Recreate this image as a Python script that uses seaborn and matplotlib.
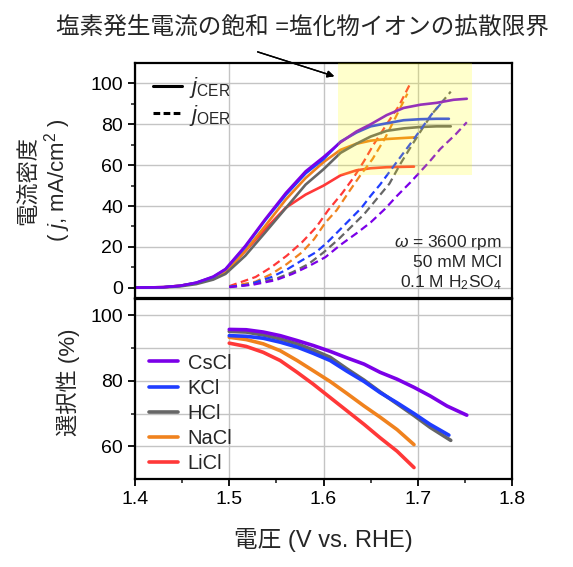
import numpy as np
import pandas as pd
import matplotlib.pyplot as plt
import seaborn as sns
from matplotlib.lines import Line2D
from matplotlib.patches import Rectangle

sns.set_style("whitegrid")
plt.rcParams['font.family'] = ['Liberation Sans', 'Noto Sans CJK JP']
plt.rcParams['mathtext.fontset'] = 'custom'
plt.rcParams['mathtext.rm'] = 'Liberation Sans'
plt.rcParams['mathtext.it'] = 'Liberation Sans:italic'
plt.rcParams['xtick.bottom'] = True
plt.rcParams['ytick.left'] = True
plt.rcParams['xtick.major.size'] = 5
plt.rcParams['ytick.major.size'] = 5
plt.rcParams['xtick.minor.size'] = 3
plt.rcParams['ytick.minor.size'] = 3

# ========== DATA ==========
salts = ["CsCl", "KCl", "HCl", "NaCl", "LiCl"]
colors = ["#7b00e8", "#1f3dff", "#666666", "#f0821e", "#ff3838"]

# j_CER (mA/cm2) - puna linija
v_cer = [1.39, 1.43, 1.448, 1.465, 1.483, 1.496, 1.517, 1.538, 1.560, 1.581,
         1.600, 1.618, 1.635, 1.650, 1.667, 1.685, 1.703, 1.720, 1.738, 1.752]
cer_cscl = [0, 0.3, 1, 2.5, 5.5, 9.2, 20.5, 33.5, 46.4, 57,
            64, 71.2, 76.5, 80, 84.5, 88, 89.6, 90.5, 92, 92.5]
v_cer_kcl = v_cer[:18] + [1.733]
cer_kcl = [0, 0.3, 1, 2.5, 5.3, 9, 20, 33, 45.5, 56,
           63, 71.5, 76, 79, 80.5, 82, 82.5, 82.7, 82.7]
v_cer_hcl = v_cer[:18] + [1.735]
cer_hcl = [0, 0.2, 0.7, 1.8, 4, 6.8, 15.7, 27, 39, 50.5,
           58, 66, 70.5, 74, 76.8, 78, 78.7, 79, 79]
v_cer_nacl = v_cer[:16] + [1.696]
cer_nacl = [0, 0.3, 1, 2.3, 5, 7.6, 18.1, 30.2, 43.2, 53.7,
            61.5, 67.5, 70.5, 72, 72.8, 73.3, 73.6]
v_cer_licl = v_cer[:16] + [1.696]
cer_licl = [0, 0.3, 1, 2.3, 5, 7.6, 18, 28.6, 39.2, 45.6,
            50, 55, 57.5, 58.5, 59, 59.2, 59.3]

# j_OER (mA/cm2) - isprekidana linija
v_oer_cscl = [1.50, 1.525, 1.549, 1.567, 1.584, 1.602, 1.618, 1.636,
              1.650, 1.665, 1.678, 1.692, 1.712, 1.724, 1.740, 1.752]
oer_cscl = [0.3, 1.5, 3.7, 6.8, 10.5, 15, 21, 27,
            32, 38.5, 45, 51.5, 61.5, 68, 75, 81]
v_oer_kcl = [1.50, 1.52, 1.545, 1.561, 1.577, 1.592, 1.604, 1.616,
             1.640, 1.650, 1.660, 1.680, 1.693, 1.704, 1.714, 1.728]
oer_kcl = [0.5, 1.5, 5.3, 8.9, 13.4, 17.4, 22.2, 27.8,
           39, 45, 50.5, 63, 71, 78, 84.5, 92]
v_oer_hcl = [1.50, 1.52, 1.55, 1.567, 1.584, 1.60, 1.616,
             1.643, 1.67, 1.682, 1.694, 1.705, 1.715, 1.735]
oer_hcl = [0.5, 1.5, 4.5, 7.6, 11.6, 17.3, 23.8,
           36, 51, 61, 70, 78, 85, 96]
v_oer_nacl = [1.50, 1.528, 1.545, 1.561, 1.577, 1.590, 1.602, 1.614,
              1.627, 1.639, 1.652, 1.665, 1.676, 1.689]
oer_nacl = [0.5, 3, 6.8, 11.6, 17.3, 23.8, 31.9, 38,
            47, 55, 63, 73, 83, 95]
v_oer_licl = [1.50, 1.528, 1.545, 1.561, 1.577, 1.592, 1.605, 1.620,
              1.632, 1.643, 1.653, 1.667, 1.680, 1.691]
oer_licl = [0.8, 5.3, 10.2, 15.7, 22.2, 29.5, 38, 46.4,
            54, 62, 70, 80, 89, 99]

# Selektivnost (%)
v_sel = [1.50, 1.518, 1.536, 1.554, 1.572, 1.589, 1.607, 1.625,
         1.643, 1.660, 1.678, 1.696, 1.713, 1.731, 1.752]
sel_cscl = [95.7, 95.6, 94.9, 93.8, 92.3, 90.8, 89.0, 87.0,
            85.1, 82.6, 80.5, 78.0, 75.4, 72.3, 69.5]
v_sel_kcl = v_sel[:13] + [1.733]
sel_kcl = [93.8, 93.6, 93.0, 91.8, 90.3, 88.4, 86.2, 82.9,
           79.8, 76.4, 73.3, 70.0, 66.7, 63.4]
v_sel_hcl = v_sel[:13] + [1.735]
sel_hcl = [95.1, 94.9, 94.0, 92.8, 91.3, 89.4, 87.2, 83.6,
           80.2, 76.6, 73.0, 69.4, 65.8, 61.8]
v_sel_na_li = v_sel[:12]
sel_nacl = [93.3, 92.6, 91.3, 89.2, 86.2, 83.1, 79.8, 76.1,
            72.3, 68.9, 65.1, 60.5]
sel_licl = [91.5, 90.5, 88.7, 86.2, 82.6, 79.0, 74.9, 70.8,
            66.7, 62.6, 58.5, 53.5]

cer = {"CsCl": (v_cer, cer_cscl), "KCl": (v_cer_kcl, cer_kcl), "HCl": (v_cer_hcl, cer_hcl),
       "NaCl": (v_cer_nacl, cer_nacl), "LiCl": (v_cer_licl, cer_licl)}
oer = {"CsCl": (v_oer_cscl, oer_cscl), "KCl": (v_oer_kcl, oer_kcl), "HCl": (v_oer_hcl, oer_hcl),
       "NaCl": (v_oer_nacl, oer_nacl), "LiCl": (v_oer_licl, oer_licl)}
sel = {"CsCl": (v_sel, sel_cscl), "KCl": (v_sel_kcl, sel_kcl), "HCl": (v_sel_hcl, sel_hcl),
       "NaCl": (v_sel_na_li, sel_nacl), "LiCl": (v_sel_na_li, sel_licl)}

# oblast zasicenja (pravougaonik)
sat_v = (1.615, 1.757)
sat_j = (55, 115)

# ========== FIGURE ==========
fig = plt.figure(figsize=(5.73, 5.67), dpi=100)
ax1 = fig.add_axes([0.2356, 0.4744, 0.658, 0.4145])
ax2 = fig.add_axes([0.2356, 0.1552, 0.658, 0.3175], sharex=ax1)

# crtamo LiCl prvo, CsCl na vrhu
for name, col in list(zip(salts, colors))[::-1]:
    v, j = cer[name]
    sns.lineplot(x=v, y=j, ax=ax1, color=col, lw=1.9, estimator=None, sort=False)
    v, j = oer[name]
    sns.lineplot(x=v, y=j, ax=ax1, color=col, lw=1.6, linestyle=(0, (3.5, 2)),
                 estimator=None, sort=False)
    v, s = sel[name]
    sns.lineplot(x=v, y=s, ax=ax2, color=col, lw=1.8, estimator=None, sort=False, label=name)

ax1.add_patch(Rectangle((sat_v[0], sat_j[0]), sat_v[1] - sat_v[0], sat_j[1] - sat_j[0],
                        facecolor='yellow', alpha=0.2, lw=0, zorder=5))

# ========== OSE ==========
for ax in (ax1, ax2):
    ax.grid(True, color='#c4c4c4', lw=1)
    for sp in ax.spines.values():
        sp.set_color('black')
        sp.set_linewidth(1.6)
    ax.tick_params(axis='both', which='major', direction='out', length=5, width=1.3,
                   labelsize=14, colors='black', left=True, bottom=True)
    ax.tick_params(axis='both', which='minor', direction='out', length=3, width=1.2,
                   left=True, bottom=True)

ax1.set_xlim(1.4, 1.8)
ax1.set_ylim(-5, 110)
ax1.set_yticks([0, 20, 40, 60, 80, 100])
ax1.set_yticks(np.arange(10, 110, 20), minor=True)
ax1.tick_params(axis='x', which='both', bottom=False, labelbottom=False)
ax1.grid(False, which='minor')

ax2.set_ylim(50, 105)
ax2.set_yticks([60, 80, 100])
ax2.set_yticks([70, 90], minor=True)
ax2.set_xticks([1.4, 1.5, 1.6, 1.7, 1.8])
ax2.set_xticks([1.45, 1.55, 1.65, 1.75], minor=True)
ax2.grid(True, which='minor', axis='y', color='#c4c4c4', lw=1)

ax1.set_ylabel("電流密度\n( $j$, mA/cm$^2$ )", fontsize=16, linespacing=1.1)
ax1.yaxis.set_label_coords(-0.165, 0.5)
ax2.set_ylabel("選択性 (%)", fontsize=16)
ax2.yaxis.set_label_coords(-0.145, 0.54)
ax2.set_xlabel("電圧 (V vs. RHE)", fontsize=17)
ax2.xaxis.set_label_coords(0.5, -0.27)

# legenda CER/OER
h = [Line2D([], [], color='black', lw=2.2),
     Line2D([], [], color='black', lw=2.2, linestyle=(0, (2.2, 1.1)))]
ax1.legend(h, [r"$j_{\mathrm{CER}}$", r"$j_{\mathrm{OER}}$"], loc='center left',
           bbox_to_anchor=(-0.005, 0.836), frameon=False, fontsize=16,
           handlelength=1.3, handletextpad=0.3, labelspacing=0.1, borderpad=0.4)

# legenda soli (CsCl gore)
handles, labels = ax2.get_legend_handles_labels()
for hd in handles:
    hd.set_linewidth(2.6)
ax2.legend(handles[::-1], labels[::-1], loc='center left', bbox_to_anchor=(-0.01, 0.366),
           frameon=False, fontsize=14.5, handlelength=1.4, handletextpad=0.5,
           labelspacing=0.3)

# uslovi merenja
for txt, yy in zip([r"$\omega$ = 3600 rpm", "50 mM MCl", "0.1 M H$_2$SO$_4$"],
                   [0.238, 0.149, 0.064]):
    ax1.text(0.973, yy, txt, transform=ax1.transAxes, ha='right', va='center', fontsize=12.5)

# naslov + strelica
fig.text(0.527, 0.952, "塩素発生電流の飽和 =塩化物イオンの拡散限界",
         ha='center', va='center', fontsize=17)
fig.add_artist(plt.annotate("", xy=(0.588, 0.864), xytext=(0.445, 0.910),
                            xycoords='figure fraction', textcoords='figure fraction',
                            arrowprops=dict(arrowstyle='-|>', color='black', lw=1,
                                            mutation_scale=10)))

plt.savefig("out.png", dpi=100)
plt.close()
